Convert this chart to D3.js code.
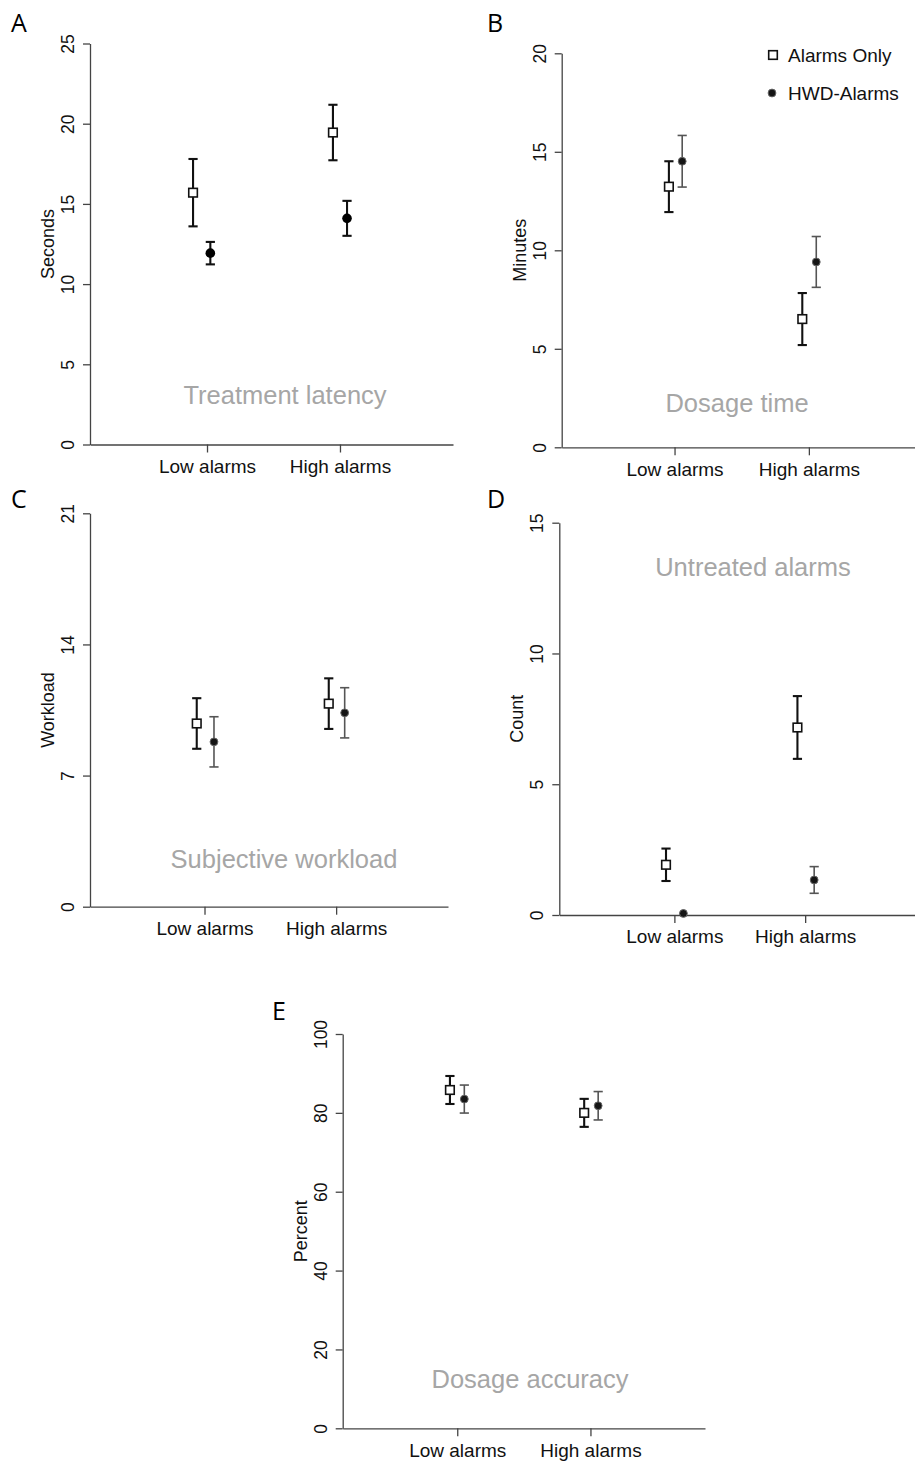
<!DOCTYPE html>
<html>
<head>
<meta charset="utf-8">
<script src="https://cdn.jsdelivr.net/npm/d3@7"></script>
<style>
    body { margin: 0; background: #fff; }
</style>
</head>
<body>
<div id="chart"></div>
<script>

//--- Data ---------------------------------------------------------------------------------------------------------------

const conditions = ['Low alarms', 'High alarms'];
const seriesLabels = ['Alarms Only', 'HWD-Alarms'];

// A: treatment latency (seconds), mean and SE
const latencyOnlyMean = [15.7, 19.45];
const latencyOnlySE = [2.1, 1.73];
const latencyHwdMean = [11.93, 14.1];
const latencyHwdSE = [0.7, 1.09];
const latencyTicks = [0, 5, 10, 15, 20, 25];

// B: dosage time (minutes)
const dosageTimeOnlyMean = [13.23, 6.51];
const dosageTimeOnlySE = [1.29, 1.32];
const dosageTimeHwdMean = [14.52, 9.41];
const dosageTimeHwdSE = [1.31, 1.29];
const dosageTimeTicks = [0, 5, 10, 15, 20];

// C: subjective workload
const workloadOnlyMean = [9.78, 10.84];
const workloadOnlySE = [1.35, 1.35];
const workloadHwdMean = [8.8, 10.35];
const workloadHwdSE = [1.34, 1.34];
const workloadTicks = [0, 7, 14, 21];

// D: untreated alarms (count)
const untreatedOnlyMean = [1.92, 7.17];
const untreatedOnlySE = [0.62, 1.2];
const untreatedHwdMean = [0.06, 1.34];
const untreatedHwdSE = [0, 0.51];
const untreatedTicks = [0, 5, 10, 15];

// E: dosage accuracy (percent)
const accuracyOnlyMean = [85.8, 80.0];
const accuracyOnlySE = [3.55, 3.55];
const accuracyHwdMean = [83.5, 81.8];
const accuracyHwdSE = [3.55, 3.6];
const accuracyTicks = [0, 20, 40, 60, 80, 100];

//--- Layout -------------------------------------------------------------------------------------------------------------

const width = 915;
const height = 1463;
const fontMain = '"Liberation Sans", Arial, sans-serif';
const noteColor = '#a6a6a6';

const panels = [
    {letter: 'A', yTitle: 'Seconds', note: 'Treatment latency', ticks: latencyTicks,
     only: [latencyOnlyMean, latencyOnlySE], hwd: [latencyHwdMean, latencyHwdSE],
     left: 90, right: 453, top: 43.5, bottom: 444.5, xDomain: [0.12, 2.85],
     dodge: [[-0.105, 0.025], [-0.053, 0.053]], notePos: [285, 395], letterPos: [11, 32], bold: true},
    {letter: 'B', yTitle: 'Minutes', note: 'Dosage time', ticks: dosageTimeTicks,
     only: [dosageTimeOnlyMean, dosageTimeOnlySE], hwd: [dosageTimeHwdMean, dosageTimeHwdSE],
     left: 561.7, right: 915, top: 53.3, bottom: 447.3, xDomain: [0.16, 2.79],
     dodge: [[-0.042, 0.057], [-0.049, 0.055]], notePos: [737, 403], letterPos: [487, 32], legend: true},
    {letter: 'C', yTitle: 'Workload', note: 'Subjective workload', ticks: workloadTicks,
     only: [workloadOnlyMean, workloadOnlySE], hwd: [workloadHwdMean, workloadHwdSE],
     left: 90, right: 448, top: 513.3, bottom: 906.7, xDomain: [0.13, 2.85],
     dodge: [[-0.059, 0.072], [-0.056, 0.065]], notePos: [284, 859], letterPos: [11, 508]},
    {letter: 'D', yTitle: 'Count', note: 'Untreated alarms', ticks: untreatedTicks,
     only: [untreatedOnlyMean, untreatedOnlySE], hwd: [untreatedHwdMean, untreatedHwdSE],
     left: 559.3, right: 915, top: 522.7, bottom: 915, xDomain: [0.12, 2.84],
     dodge: [[-0.064, 0.069], [-0.059, 0.069]], notePos: [753, 567], letterPos: [487, 508]},
    {letter: 'E', yTitle: 'Percent', note: 'Dosage accuracy', ticks: accuracyTicks,
     only: [accuracyOnlyMean, accuracyOnlySE], hwd: [accuracyHwdMean, accuracyHwdSE],
     left: 342.7, right: 705, top: 1034, bottom: 1428.3, xDomain: [0.14, 2.86],
     dodge: [[-0.055, 0.053], [-0.047, 0.058]], notePos: [530, 1379], letterPos: [272, 1020]}
];

const mySVG = d3.select('#chart')
    .append('svg')
        .attr('width', width)
        .attr('height', height)
        .attr('viewBox', [0, 0, width, height])
        .style('font-family', fontMain);

//--- Panels -------------------------------------------------------------------------------------------------------------

function drawPanel(p) {

    let g = mySVG.append('g');

    let x = d3.scaleLinear()
        .domain(p.xDomain)
        .range([p.left, p.right]);

    let y = d3.scaleLinear()
        .domain([0, d3.max(p.ticks)])
        .range([p.bottom, p.top]);

    // y axis with rotated labels (R style)
    let yAxis = g.append('g')
        .attr('transform', `translate(${p.left},0)`)
        .call(d3.axisLeft(y).tickValues(p.ticks).tickSize(7).tickSizeOuter(0));

    yAxis.selectAll('text')
        .attr('x', 0)
        .attr('y', 0)
        .attr('dy', 0)
        .attr('text-anchor', 'middle')
        .attr('transform', 'translate(-16,0) rotate(-90)')
        .style('font-size', '17.5px')
        .style('font-family', fontMain)
        .style('fill', '#111');

    // x axis
    let xAxis = g.append('g')
        .attr('transform', `translate(0,${p.bottom})`)
        .call(d3.axisBottom(x).tickValues([1, 2]).tickFormat(i => conditions[i - 1]).tickSize(8).tickPadding(7).tickSizeOuter(0));

    xAxis.selectAll('text')
        .style('font-size', '19px')
        .style('font-family', fontMain)
        .style('fill', '#111');

    g.selectAll('.domain, .tick line')
        .attr('stroke', '#444')
        .attr('stroke-width', 1.3);

    // y title
    g.append('text')
        .attr('transform', `translate(${p.left - 36},${(p.top + p.bottom) / 2}) rotate(-90)`)
        .attr('text-anchor', 'middle')
        .style('font-size', '18px')
        .style('fill', '#111')
        .text(p.yTitle);

    // panel letter
    g.append('text')
        .attr('x', p.letterPos[0])
        .attr('y', p.letterPos[1])
        .style('font-family', '"Open Sans", "Noto Sans", sans-serif')
        .style('font-size', '25px')
        .style('fill', '#000')
        .text(p.letter);

    // grey caption
    g.append('text')
        .attr('x', p.notePos[0])
        .attr('y', p.notePos[1])
        .attr('text-anchor', 'middle')
        .attr('dominant-baseline', 'central')
        .style('font-size', '25.5px')
        .style('fill', noteColor)
        .text(p.note);

    // build rows for the two series
    let rows = [];
    conditions.forEach((c, i) => {
        rows.push({series: 0, cond: i + 1, mean: p.only[0][i], se: p.only[1][i], dx: p.dodge[i][0]});
        rows.push({series: 1, cond: i + 1, mean: p.hwd[0][i], se: p.hwd[1][i], dx: p.dodge[i][1]});
    });

    const capHalf = 4.6;
    const barColor = d => (d.series === 0 || p.bold) ? '#111' : '#555';
    const barWidth = d => (d.series === 0 || p.bold) ? 2.1 : 1.6;

    let bars = g.append('g')
        .selectAll('g')
        .data(rows.filter(d => d.se > 0))
        .join('g')
            .attr('stroke', barColor)
            .attr('stroke-width', barWidth);

    bars.append('line')
        .attr('x1', d => x(d.cond + d.dx))
        .attr('x2', d => x(d.cond + d.dx))
        .attr('y1', d => y(d.mean - d.se))
        .attr('y2', d => y(d.mean + d.se));

    bars.append('line')
        .attr('x1', d => x(d.cond + d.dx) - capHalf)
        .attr('x2', d => x(d.cond + d.dx) + capHalf)
        .attr('y1', d => y(d.mean + d.se))
        .attr('y2', d => y(d.mean + d.se));

    bars.append('line')
        .attr('x1', d => x(d.cond + d.dx) - capHalf)
        .attr('x2', d => x(d.cond + d.dx) + capHalf)
        .attr('y1', d => y(d.mean - d.se))
        .attr('y2', d => y(d.mean - d.se));

    // open squares (Alarms Only)
    const sq = 8.6;
    g.append('g')
        .selectAll('rect')
        .data(rows.filter(d => d.series === 0))
        .join('rect')
            .attr('x', d => x(d.cond + d.dx) - sq / 2)
            .attr('y', d => y(d.mean) - sq / 2)
            .attr('width', sq)
            .attr('height', sq)
            .attr('fill', '#fff')
            .attr('stroke', '#111')
            .attr('stroke-width', 1.6);

    // filled dots (HWD-Alarms)
    g.append('g')
        .selectAll('circle')
        .data(rows.filter(d => d.series === 1))
        .join('circle')
            .attr('cx', d => x(d.cond + d.dx))
            .attr('cy', d => y(d.mean))
            .attr('r', p.bold ? 4.8 : 3.9)
            .attr('fill', p.bold ? '#000' : '#151515')
            .attr('stroke', p.bold ? 'none' : '#666')
            .attr('stroke-width', 1);

    // legend
    if (p.legend) {
        let leg = g.append('g');
        leg.append('rect')
            .attr('x', 773 - sq / 2)
            .attr('y', 55 - sq / 2)
            .attr('width', sq)
            .attr('height', sq)
            .attr('fill', '#fff')
            .attr('stroke', '#111')
            .attr('stroke-width', 1.6);
        leg.append('circle')
            .attr('cx', 772)
            .attr('cy', 93)
            .attr('r', 3.9)
            .attr('fill', '#151515')
            .attr('stroke', '#666');
        leg.selectAll('text')
            .data(seriesLabels)
            .join('text')
                .attr('x', 788)
                .attr('y', (d, i) => i === 0 ? 55 : 93)
                .attr('dominant-baseline', 'central')
                .style('font-size', '19px')
                .style('fill', '#111')
                .text(d => d);
    }
}

panels.forEach(drawPanel);

</script>
</body>
</html>
